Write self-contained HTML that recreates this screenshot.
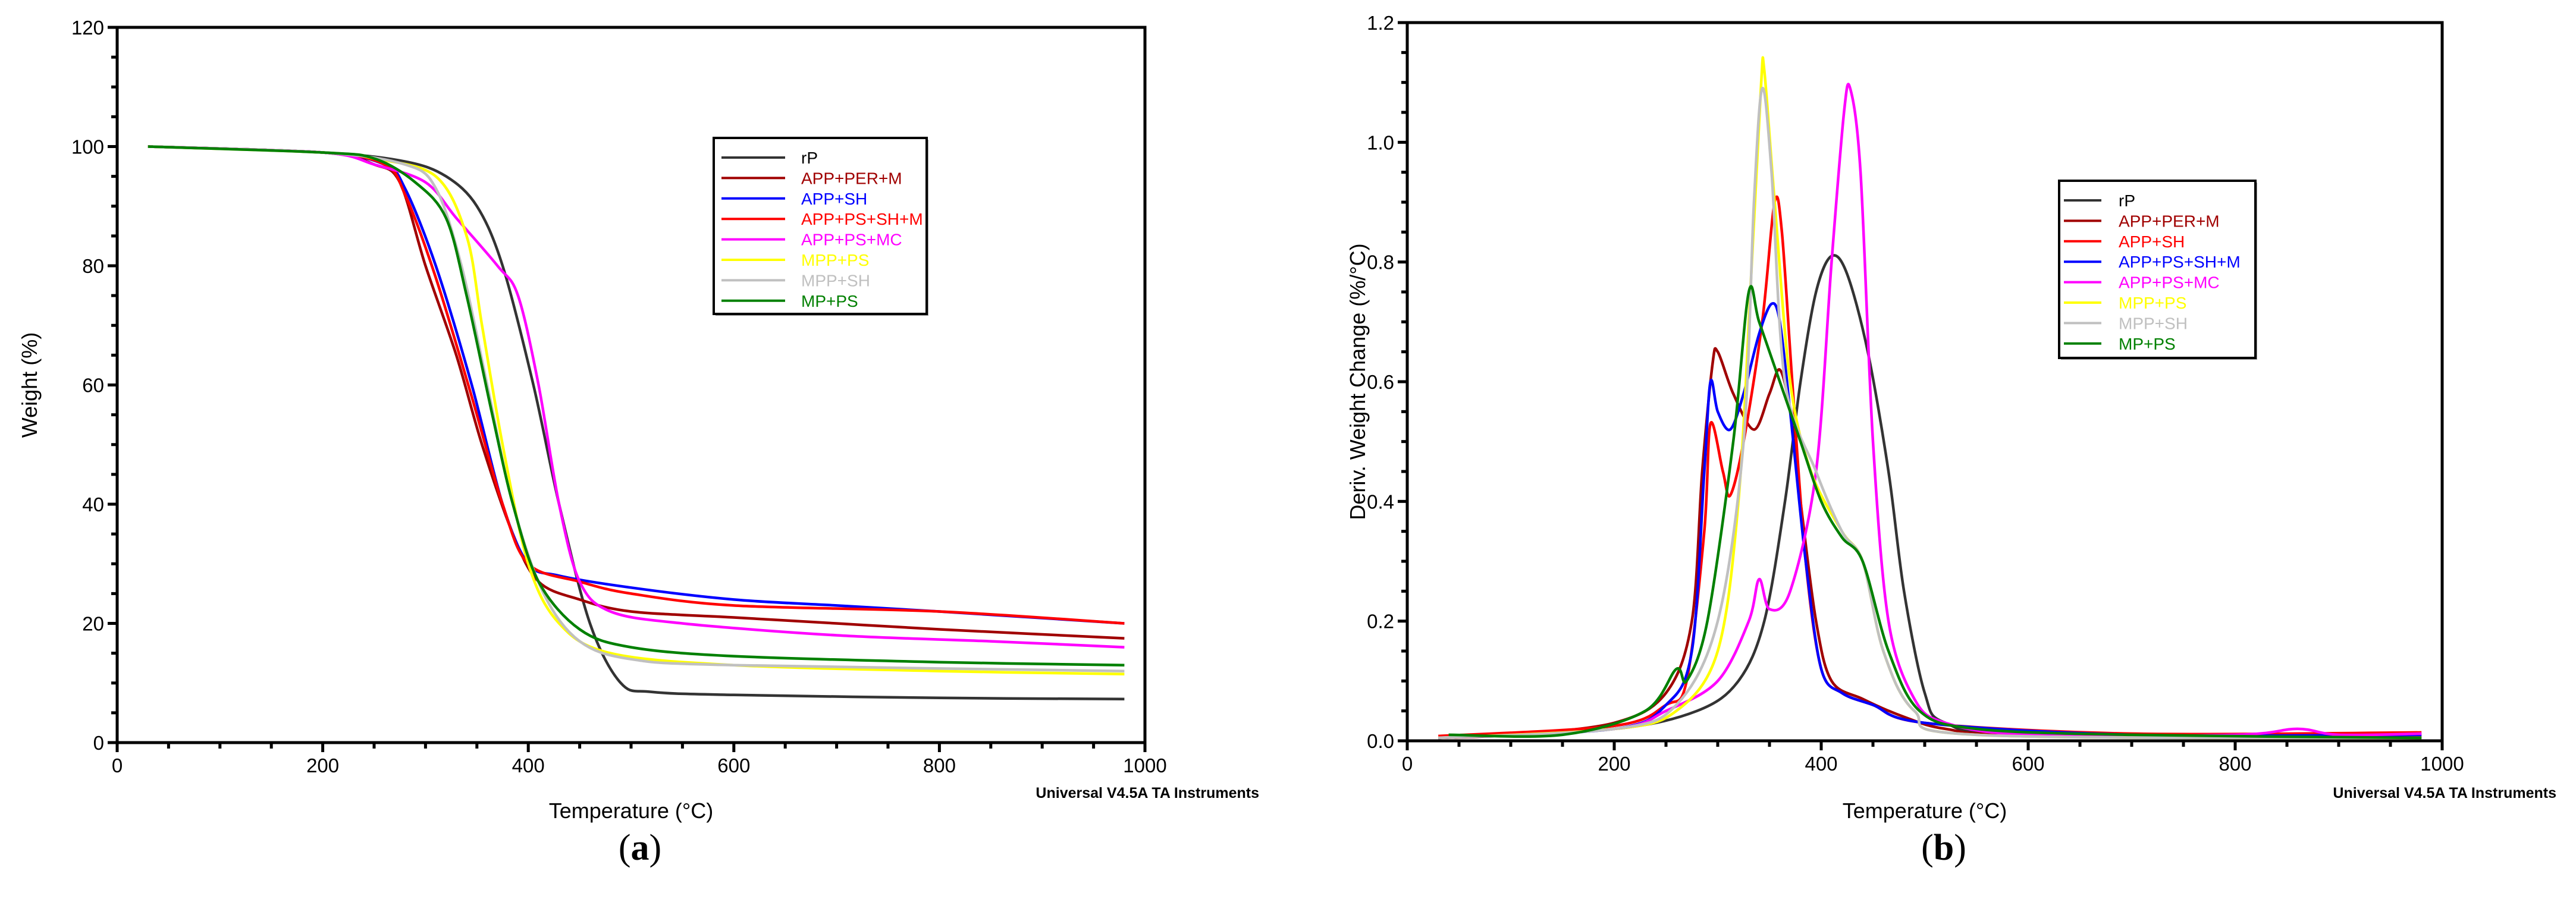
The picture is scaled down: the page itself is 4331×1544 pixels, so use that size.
<!DOCTYPE html>
<html><head><meta charset="utf-8"><style>
html,body{margin:0;padding:0;background:#fff;}
svg{display:block;font-family:"Liberation Sans",Arial,sans-serif;}
</style></head><body>
<svg id="fig" width="4331" height="1544" viewBox="0 0 4331 1544"></svg>
<script>
const names=["rP","APP+PER+M","APP+SH","APP+PS+SH+M","APP+PS+MC","MPP+PS","MPP+SH","MP+PS"];
const colorsA=["#333333","#a00000","#0000ff","#ff0000","#ff00ff","#ffff00","#c0c0c0","#008000"];
const colorsB=["#333333","#a00000","#ff0000","#0000ff","#ff00ff","#ffff00","#c0c0c0","#008000"];
const xTicks=[0,200,400,600,800,1000];
const yTicksA=[0,20,40,60,80,100,120];
const yTicksB=["0.0","0.2","0.4","0.6","0.8","1.0","1.2"];
// TGA weight (%) : [temperature, weight]
const tgaRP=[[30,100],[200,99],[280,97.5],[320,95],[350,90],[375,80],[405,60],[430,40],[460,20],[490,10],[520,8.5],[600,8],[800,7.5],[980,7.3]];
const tgaPER=[[30,100],[200,99],[250,97],[275,94],[300,80],[330,65],[355,50],[385,35],[410,27],[450,24],[500,22],[600,21],[700,20],[800,19],[980,17.5]];
const tgaSH=[[30,100],[200,99],[260,97],[280,93],[310,80],[345,60],[375,40],[400,30],[430,28],[500,26],[600,24],[700,23],[800,22],[980,20]];
const tgaPSSHM=[[30,100],[200,99],[260,97],[280,92],[310,78],[345,58],[375,40],[400,30],[450,27],[500,25],[600,23],[800,22],[980,20]];
const tgaMC=[[30,100],[200,99],[250,97],[300,94],[330,88],[370,80],[390,75],[410,60],[430,40],[450,27],[480,22],[550,20],[700,18],[850,17],[980,16]];
const tgaMPPPS=[[30,100],[200,99],[250,98],[310,95],[340,85],[355,70],[375,50],[400,30],[430,20],[480,15],[600,13],[800,12],[980,11.5]];
const tgaMPPSH=[[30,100],[200,99],[280,97],[310,93],[335,80],[360,60],[385,40],[415,25],[450,17],[500,14],[600,13],[980,12]];
const tgaMP=[[30,100],[200,99],[250,98],[290,94],[320,88],[340,75],[365,55],[385,40],[410,27],[450,19],[500,16],[600,14.5],[800,13.5],[980,13]];
// DTG (%/°C)
const dtgRP=[[30,0.005],[200,0.02],[280,0.05],[320,0.1],[345,0.2],[365,0.4],[380,0.6],[395,0.75],[410,0.81],[425,0.78],[445,0.65],[465,0.45],[480,0.25],[500,0.08],[520,0.03],[600,0.01],[980,0.005]];
const dtgPER=[[30,0.005],[100,0.01],[200,0.03],[250,0.08],[275,0.2],[285,0.45],[295,0.63],[300,0.65],[315,0.58],[335,0.52],[350,0.58],[360,0.62],[370,0.55],[380,0.4],[395,0.2],[410,0.1],[440,0.07],[480,0.04],[520,0.02],[600,0.01],[980,0.008]];
const dtgSH=[[30,0.008],[200,0.025],[250,0.06],[270,0.1],[287,0.35],[293,0.53],[305,0.45],[312,0.41],[325,0.5],[343,0.7],[355,0.9],[362,0.85],[372,0.6],[385,0.3],[400,0.12],[420,0.08],[450,0.06],[500,0.03],[700,0.012],[980,0.014]];
const dtgPSSHM=[[30,0.005],[200,0.02],[250,0.06],[275,0.15],[287,0.45],[293,0.6],[300,0.55],[312,0.52],[325,0.58],[340,0.68],[352,0.73],[360,0.7],[370,0.55],[385,0.3],[400,0.12],[420,0.08],[450,0.06],[500,0.03],[700,0.01],[980,0.01]];
const dtgMC=[[30,0.005],[200,0.02],[250,0.05],[300,0.1],[330,0.2],[340,0.27],[350,0.22],[370,0.25],[395,0.45],[410,0.8],[422,1.05],[428,1.09],[438,0.95],[450,0.5],[465,0.2],[490,0.07],[520,0.03],[600,0.01],[800,0.01],[860,0.02],[900,0.01],[980,0.012]];
const dtgMPPPS=[[30,0.005],[200,0.02],[260,0.05],[300,0.15],[320,0.4],[333,0.8],[342,1.1],[345,1.12],[355,0.9],[370,0.6],[390,0.45],[420,0.35],[440,0.3],[460,0.15],[490,0.05],[550,0.01],[980,0.005]];
const dtgMPPSH=[[30,0.005],[200,0.02],[260,0.06],[300,0.2],[325,0.5],[335,0.9],[343,1.09],[352,0.95],[365,0.6],[395,0.45],[420,0.35],[440,0.3],[460,0.15],[490,0.05],[550,0.01],[980,0.005]];
const dtgMP=[[40,0.01],[150,0.01],[230,0.05],[260,0.12],[270,0.1],[290,0.2],[315,0.5],[330,0.75],[340,0.7],[360,0.6],[380,0.5],[400,0.4],[420,0.34],[440,0.3],[465,0.15],[495,0.05],[550,0.02],[700,0.01],[980,0.005]];
const tgaSeries=[tgaRP,tgaPER,tgaSH,tgaPSSHM,tgaMC,tgaMPPPS,tgaMPPSH,tgaMP];
const dtgSeries=[dtgRP,dtgPER,dtgSH,dtgPSSHM,dtgMC,dtgMPPPS,dtgMPPSH,dtgMP];

const NS="http://www.w3.org/2000/svg";
const svg=document.getElementById('fig');
function mk(tag,attrs,parent,text){const e=document.createElementNS(NS,tag);for(const k in attrs)e.setAttribute(k,attrs[k]);if(text!==undefined)e.textContent=text;(parent||svg).appendChild(e);return e;}
function smoothPath(pts){
  let d="M"+pts[0][0].toFixed(1)+","+pts[0][1].toFixed(1);
  for(let i=0;i<pts.length-1;i++){
    const p0=pts[Math.max(0,i-1)],p1=pts[i],p2=pts[i+1],p3=pts[Math.min(pts.length-1,i+2)];
    const t=0.16;
    const c1=[p1[0]+(p2[0]-p0[0])*t,p1[1]+(p2[1]-p0[1])*t];
    const c2=[p2[0]-(p3[0]-p1[0])*t,p2[1]-(p3[1]-p1[1])*t];
    d+=" C"+c1[0].toFixed(1)+","+c1[1].toFixed(1)+" "+c2[0].toFixed(1)+","+c2[1].toFixed(1)+" "+p2[0].toFixed(1)+","+p2[1].toFixed(1);
  }
  return d;
}
function chart(cfg){
  const g=mk('g',{});
  
  
  const xs=v=>cfg.x0+(v-0)/1000*(cfg.x1-cfg.x0);
  const ys=v=>cfg.y0-(v/cfg.ymax)*(cfg.y0-cfg.yTop);
  // series
  cfg.series.forEach((s,i)=>{
    const p=mk('path',{d:smoothPath(s.map(q=>[xs(q[0]),ys(q[1])])),fill:'none',stroke:cfg.colors[i],'stroke-width':4.5,'stroke-linejoin':'round'},g);
    
    
  });
  // frame
  const fr=mk('rect',{x:cfg.x0,y:cfg.yTop,width:cfg.x1-cfg.x0,height:cfg.y0-cfg.yTop,fill:'none',stroke:'#000','stroke-width':5},g);
  
  
  // x ticks
  for(let v=0;v<=1000;v+=50){
    const major=v%200===0;
    mk('line',{x1:xs(v),x2:xs(v),y1:cfg.y0,y2:cfg.y0+(major?16:10),stroke:'#000','stroke-width':5},g);
  }
  xTicks.forEach(v=>{
    const t=mk('text',{x:xs(v),y:cfg.y0+50,'font-size':33,'text-anchor':'middle',fill:'#000'},g,String(v));
    
    
  });
  // y ticks
  const nMinor=24;
  for(let k=0;k<=nMinor;k++){
    const v=cfg.ymax*k/nMinor;const major=k%4===0;
    mk('line',{x1:cfg.x0-(major?16:10),x2:cfg.x0,y1:ys(v),y2:ys(v),stroke:'#000','stroke-width':5},g);
  }
  cfg.yLabels.forEach((lab,k)=>{
    const t=mk('text',{x:cfg.x0-22,y:ys(cfg.ymax*k/6)+12,'font-size':33,'text-anchor':'end',fill:'#000'},g,String(lab));
    
    
  });
  const xt=mk('text',{x:(cfg.x0+cfg.x1)/2,y:1376,'font-size':36,'text-anchor':'middle',fill:'#000'},g,'Temperature (°C)');
  
  
  const yt=mk('text',{x:0,y:0,'font-size':36,'text-anchor':'middle',fill:'#000',transform:'translate('+cfg.yTitleX+','+((cfg.y0+cfg.yTop)/2)+') rotate(-90)'},g,cfg.yTitle);
  
  
  const un=mk('text',{x:cfg.x1+192,y:1342,'font-size':25,'font-weight':'bold','text-anchor':'end',fill:'#000'},g,'Universal V4.5A TA Instruments');
  
  
  // legend
  const L=cfg.leg;
  const lg=mk('g',{},g);
  
  
  mk('rect',{x:L.x+3,y:L.y+3,width:L.w,height:L.h,fill:'#999'},lg);
  mk('rect',{x:L.x,y:L.y,width:L.w,height:L.h,fill:'#fff',stroke:'#000','stroke-width':4},lg);
  names.forEach((n,i)=>{
    const yy=L.y+33+i*34.4;
    const e=mk('g',{},lg);
    
    
    mk('line',{x1:L.lx1,x2:L.lx2,y1:yy,y2:yy,stroke:cfg.colors[i],'stroke-width':4},e);
    mk('text',{x:L.tx,y:yy+10,'font-size':28,fill:cfg.colors[i]==='#333333'?'#000':cfg.colors[i]},e,n);
  });
  const cap=mk('text',{x:cfg.capX,y:1446,'font-size':62,'font-family':'"Liberation Serif",serif','text-anchor':'middle',fill:'#000'},g);
  
  
  mk('tspan',{},cap,'(');mk('tspan',{'font-weight':'bold'},cap,cfg.cap);mk('tspan',{},cap,')');
}
chart({name:'tga-chart',x0:197,x1:1925,y0:1249,yTop:46,ymax:120,yLabels:yTicksA,series:tgaSeries,colors:colorsA,
  yTitle:'Weight (%)',yTitleX:62,leg:{x:1200,y:232,w:358,h:296,lx1:1213,lx2:1320,tx:1347},capX:1076,cap:'a'});
chart({name:'dtg-chart',x0:2366,x1:4106,y0:1246,yTop:38,ymax:1.2,yLabels:yTicksB,series:dtgSeries,colors:colorsB,
  yTitle:'Deriv. Weight Change (%/°C)',yTitleX:2295,leg:{x:3462,y:304,w:330,h:298,lx1:3470,lx2:3533,tx:3562},capX:3268,cap:'b'});
</script>
</body></html>
